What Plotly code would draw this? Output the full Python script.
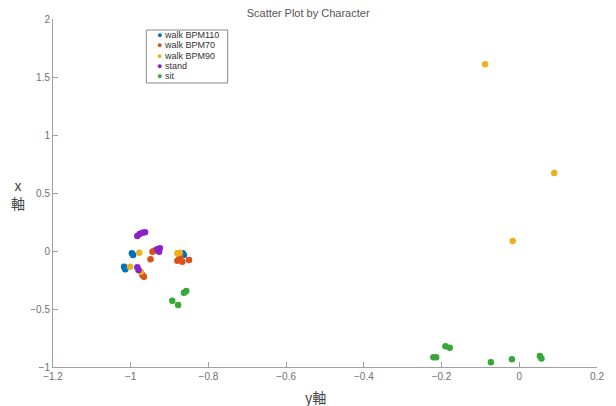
import plotly.graph_objects as go

names = ["walk BPM110", "walk BPM70", "walk BPM90", "stand", "sit"]
colors = ["#0072BD", "#D95319", "#EDB120", "#8A22C8", "#36A838"]

x_bpm110 = [-0.997, -0.994, -1.017, -1.014, -0.866, -0.863]
y_bpm110 = [-0.020, -0.034, -0.135, -0.158, -0.020, -0.034]

x_bpm70 = [-0.944, -0.949, -0.940, -0.970, -0.966, -0.876, -0.867, -0.850, -0.880, -0.872]
y_bpm70 = [-0.006, -0.072, 0.003, -0.207, -0.222, -0.072, -0.092, -0.078, -0.084, -0.049]

x_bpm90 = [-0.978, -1.002, -0.974, -0.880, -0.874, -0.088, 0.090, -0.017]
y_bpm90 = [-0.015, -0.135, -0.178, -0.020, -0.015, 1.609, 0.672, 0.086]

x_stand = [-0.983, -0.977, -0.970, -0.963, -0.932, -0.927, -0.925, -0.983, -0.980]
y_stand = [0.129, 0.147, 0.158, 0.161, 0.015, -0.006, 0.023, -0.141, -0.164]

x_sit = [-0.893, -0.878, -0.863, -0.857, -0.221, -0.214, -0.190, -0.179, -0.073, -0.019, 0.053, 0.057]
y_sit = [-0.428, -0.466, -0.359, -0.345, -0.916, -0.916, -0.822, -0.834, -0.960, -0.934, -0.905, -0.926]

series = [(x_bpm110, y_bpm110), (x_bpm70, y_bpm70), (x_bpm90, y_bpm90), (x_stand, y_stand), (x_sit, y_sit)]

xticks = [-1.2, -1, -0.8, -0.6, -0.4, -0.2, 0, 0.2]
xticktext = ["\u22121.2", "\u22121", "\u22120.8", "\u22120.6", "\u22120.4", "\u22120.2", "0", "0.2"]
yticks = [-1, -0.5, 0, 0.5, 1, 1.5, 2]
yticktext = ["\u22121", "\u22120.5", "0", "0.5", "1", "1.5", "2"]

fig = go.Figure()
for (xs, ys), n, c in zip(series, names, colors):
    fig.add_trace(go.Scatter(x=xs, y=ys, mode="markers", name=n, showlegend=False,
                             marker=dict(color=c, size=6.5, line=dict(width=0))))

axis_common = dict(showgrid=False, zeroline=False, showline=True, linecolor="#a0a0a0",
                   linewidth=1, ticks="inside", ticklen=5, tickcolor="#a0a0a0",
                   tickfont=dict(family="Liberation Sans, Arial", size=10, color="#707070"),
                   mirror=False)

# plot area in page pixels: x 53..601, y 19..367
L, R, T, B = 53, 601, 19, 367

def px(p):
    return (p - L) / float(R - L)

def py(p):
    return (B - p) / float(B - T)

annotations = [
    dict(text="y軸", x=px(317), y=py(397), xref="paper", yref="paper", xanchor="center", yanchor="middle",
         showarrow=False, font=dict(family="Noto Sans CJK JP", size=14, color="#444444")),
    dict(text="x<br>軸", x=px(18), y=py(194), xref="paper", yref="paper", xanchor="center", yanchor="middle",
         showarrow=False, font=dict(family="Noto Sans CJK JP", size=14, color="#444444")),
]
legend_rows = [35, 45.3, 55.6, 65.9, 76.2]
for n, c, r in zip(names, colors, legend_rows):
    annotations.append(dict(
        text=f"<span style='color:{c}'>●</span> {n}", x=px(156), y=py(r), xref="paper", yref="paper",
        xanchor="left", yanchor="middle", showarrow=False,
        font=dict(family="Liberation Sans, Arial", size=9, color="#333333")))

fig.update_layout(
    width=616, height=406,
    margin=dict(l=L, r=616 - R, t=T, b=406 - B),
    paper_bgcolor="white", plot_bgcolor="white",
    font=dict(family="Liberation Sans, Arial", color="#555555"),
    title=dict(text="Scatter Plot by Character", x=px(310), xref="paper", xanchor="center",
               y=1 - 13 / 406.0, yanchor="middle", font=dict(size=11, color="#555555")),
    xaxis=dict(range=[-1.2, 0.2], tickvals=xticks, ticktext=xticktext, **axis_common),
    yaxis=dict(range=[-1, 2], tickvals=yticks, ticktext=yticktext, **axis_common),
    showlegend=False,
    shapes=[dict(type="rect", xref="paper", yref="paper", x0=px(147), x1=px(229), y0=py(83), y1=py(30),
                 line=dict(color="#888888", width=1), fillcolor="white", layer="above")],
    annotations=annotations,
)

fig.write_html("out.html", config={"displayModeBar": False},
               post_script="document.body.style.margin='0';document.body.style.overflow='hidden';")
